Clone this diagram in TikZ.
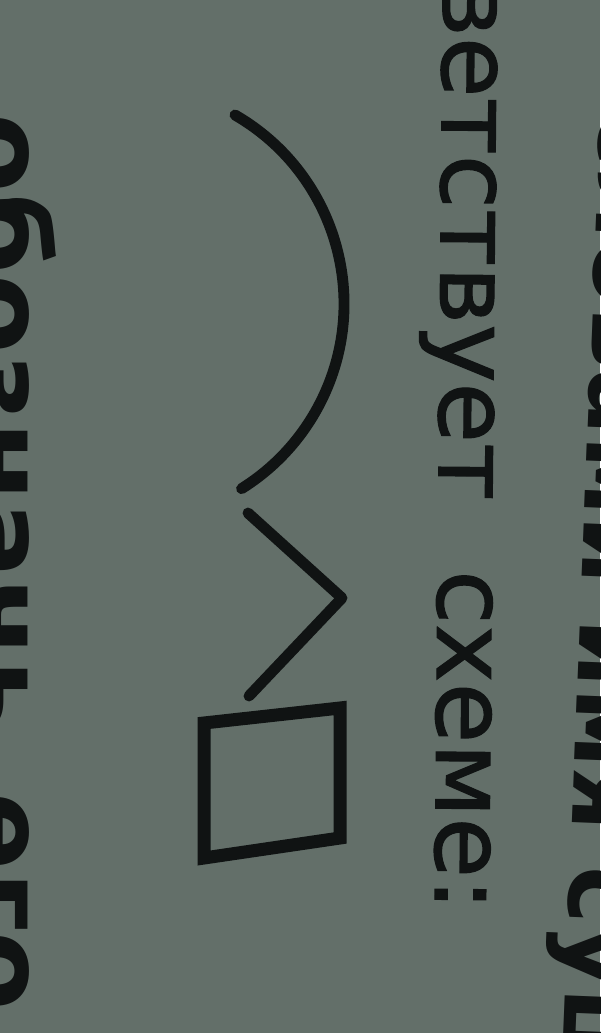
\documentclass[tikz,border=0pt]{standalone}
\usepackage{fontspec}
\setmainfont{DejaVu Sans}
\newfontfamily\bookfont[FakeBold = 1.2]{DejaVu Sans}
\definecolor{paper}{RGB}{99,111,105}
\definecolor{ink}{RGB}{16,19,19}

\begin{document}
\begin{tikzpicture}[x = 0.1mm, y = -0.1mm]
    \useasboundingbox (0,0) rectangle (600,1033);
    \fill [paper] (0,0) rectangle (600,1033);
    \clip (0,0) rectangle (600,1033);
    % root, suffix, ending
    \coordinate (A) at (235,115);
    \coordinate (B) at (248,513);
    \coordinate (C) at (342,598);
    \coordinate (D) at (249,696);
    \draw [line width = 3.1pt, ink, line cap = round] (A)
      arc [start angle = 60, end angle = -58, radius = 21.8mm];
    \draw [line width = 3.1pt, ink, line cap = round, line join = round]
      (B) -- (C) -- (D);
    \draw [line width = 3.7pt, ink, line join = miter]
      (204,723) -- (340,708) -- (340,838) -- (204,858) -- cycle;
    % text lines of the page
    \node [ink, rotate = -90.5, anchor = base west, inner sep = 0] (line)
      at (443,-22) {\fontsize{28}{34}\bookfont ветствует\hspace{7mm}схеме:};
    \node [ink, rotate = -90, anchor = base west, inner sep = 0] (task)
      at (-35,113) {\fontsize{33}{40}\selectfont\bfseries обозначь\hspace{6mm}его};
    \node [ink, rotate = -92.3, anchor = base west, inner sep = 0] (prev)
      at (601,108) {\fontsize{28}{34}\selectfont\bfseries словами имя существительное};
\end{tikzpicture}
\end{document}
